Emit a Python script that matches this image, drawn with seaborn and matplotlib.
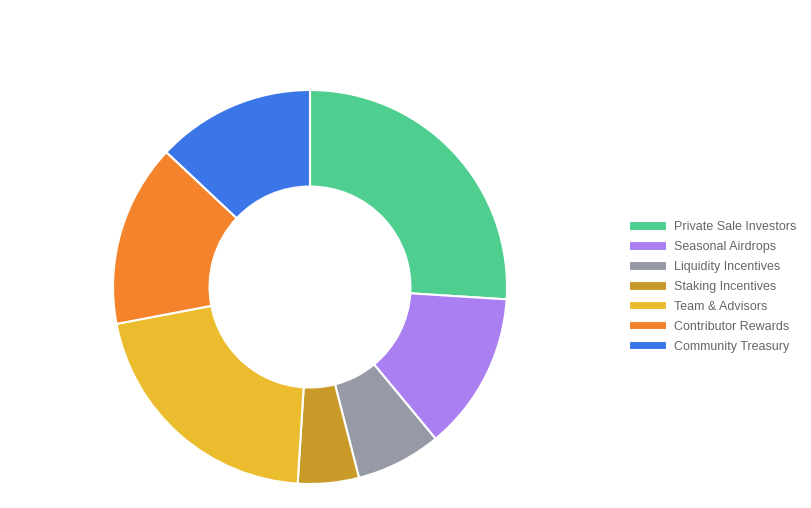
import matplotlib
matplotlib.use("Agg")
import matplotlib.pyplot as plt
import seaborn as sns

sns.set_theme(style="white")
plt.rcParams['font.family'] = ['Liberation Sans', 'DejaVu Sans']

labels = ["Private Sale Investors", "Seasonal Airdrops", "Liquidity Incentives",
          "Staking Incentives", "Team & Advisors", "Contributor Rewards", "Community Treasury"]
values = [26, 13, 7, 5, 21, 15, 13]
colors = ["#4ecf8f", "#a97ff2", "#959aa6", "#c99a28", "#ebbc2d", "#f5832b", "#3b76e8"]

W, H = 811, 508
fig = plt.figure(figsize=(W / 100, H / 100), dpi=100)
cx, cy, r = 310, 287, 197
ax = fig.add_axes([(cx - r) / W, (H - cy - r) / H, 2 * r / W, 2 * r / H])

wedges, _ = ax.pie(values, colors=colors, startangle=90, counterclock=False, radius=1,
                   wedgeprops=dict(width=0.49, edgecolor="white", linewidth=1.5))
ax.set_xlim(-1, 1)
ax.set_ylim(-1, 1)
ax.set_aspect("equal")
ax.axis("off")

fig.legend(wedges, labels, loc="center left", bbox_to_anchor=(618 / W, 1 - 287 / H),
           frameon=False, fontsize=9, labelcolor="#666666",
           handlelength=3.0, handleheight=0.8, labelspacing=0.62, handletextpad=0.6)

fig.savefig("out.png", dpi=100, facecolor="white")
